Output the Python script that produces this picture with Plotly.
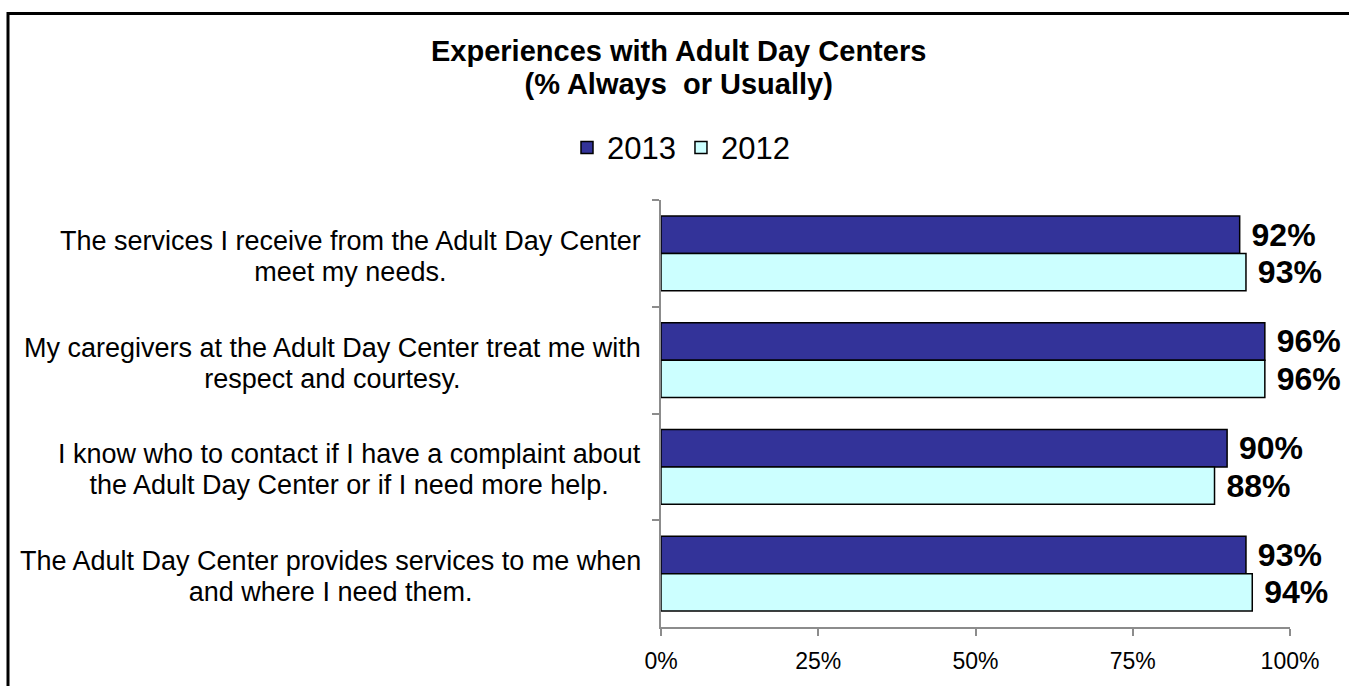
import plotly.graph_objects as go

# Survey items (line breaks as printed on the chart)
questions = [
    "The services I receive from the Adult Day Center<br>meet my needs.",
    "My caregivers at the Adult Day Center treat me with<br>respect and courtesy.",
    "I know who to contact if I have a complaint about<br>the Adult Day Center or if I need more help.",
    "The Adult Day Center provides services to me when<br>and where I need them.",
]
pct_2013 = [92, 96, 90, 93]
pct_2012 = [93, 96, 88, 94]
x_ticks = [0, 25, 50, 75, 100]
x_tick_labels = ["0%", "25%", "50%", "75%", "100%"]

W, H = 1349, 686
PL, PR, PT, PB = 661, 1290, 200, 633  # plot area in pixels


def px_x(p):
    return (p - PL) / (PR - PL)


def px_y(p):
    return (PB - p) / (PB - PT)


def sized(text, px):
    """Wrap each line in a span of the given size; the annotation's own
    font size then only sets the (tighter) line spacing."""
    return "<br>".join(f'<span style="font-size:{px}px">{t}</span>' for t in text.split("<br>"))


FONT = "Arial, Liberation Sans, sans-serif"

fig = go.Figure()
for name, vals, color in [("2013", pct_2013, "#333399"), ("2012", pct_2012, "#CCFFFF")]:
    fig.add_trace(go.Bar(
        name=name,
        y=questions,
        x=vals,
        orientation="h",
        marker=dict(color=color, line=dict(color="black", width=1.5)),
        text=[f"\u00a0{v}%" for v in vals],
        textposition="outside",
        constraintext="none",
        cliponaxis=False,
        textfont=dict(family=FONT, size=32, color="black", weight="bold"),
        hoverinfo="skip",
    ))

annotations = [
    dict(
        text="<b>" + sized("Experiences with Adult Day Centers<br>(% Always  or Usually)", 29) + "</b>",
        xref="paper", yref="paper", x=px_x(678), y=px_y(66),
        xanchor="center", yanchor="middle", showarrow=False, align="center",
        font=dict(family=FONT, size=25, color="black"),
    )
]
# Two-line category labels, lines centred on each other, right edge next to the axis
for q in questions:
    annotations.append(dict(
        text=sized(q, 27), xref="paper", yref="y", x=px_x(643), y=q,
        xanchor="right", yanchor="middle", showarrow=False, align="center",
        yshift=-3,
        font=dict(family=FONT, size=23.5, color="black"),
    ))

fig.update_layout(
    width=W, height=H, autosize=False,
    margin=dict(l=PL, r=W - PR, t=PT, b=H - PB, pad=0),
    paper_bgcolor="white", plot_bgcolor="white",
    barmode="group", bargap=0.3, bargroupgap=0,
    font=dict(family=FONT, color="black"),
    showlegend=True,
    legend=dict(
        orientation="h", x=px_x(681), xanchor="center", y=px_y(147), yanchor="middle",
        font=dict(family=FONT, size=31, color="black"),
        traceorder="normal", itemwidth=30,
    ),
    annotations=annotations,
    shapes=[dict(
        type="rect", xref="paper", yref="paper",
        x0=px_x(8), x1=px_x(1365), y0=px_y(700), y1=px_y(11),
        line=dict(color="black", width=3), fillcolor="rgba(0,0,0,0)", layer="above",
    )],
    xaxis=dict(
        range=[0, 100], tickvals=x_ticks, ticktext=x_tick_labels,
        showgrid=False, zeroline=False,
        showline=True, linecolor="#8c8c8c", linewidth=2,
        ticks="outside", ticklen=7, tickwidth=2, tickcolor="#8c8c8c",
        tickfont=dict(family=FONT, size=23, color="black"),
        ticklabelstandoff=5,
        fixedrange=True,
    ),
    yaxis=dict(
        type="category", autorange="reversed",
        showgrid=False, zeroline=False, showticklabels=False,
        showline=True, linecolor="#8c8c8c", linewidth=2,
        ticks="outside", tickson="boundaries", ticklen=7, tickwidth=2, tickcolor="#8c8c8c",
        fixedrange=True,
    ),
)

fig.write_html("out.html", config={"displayModeBar": False})
